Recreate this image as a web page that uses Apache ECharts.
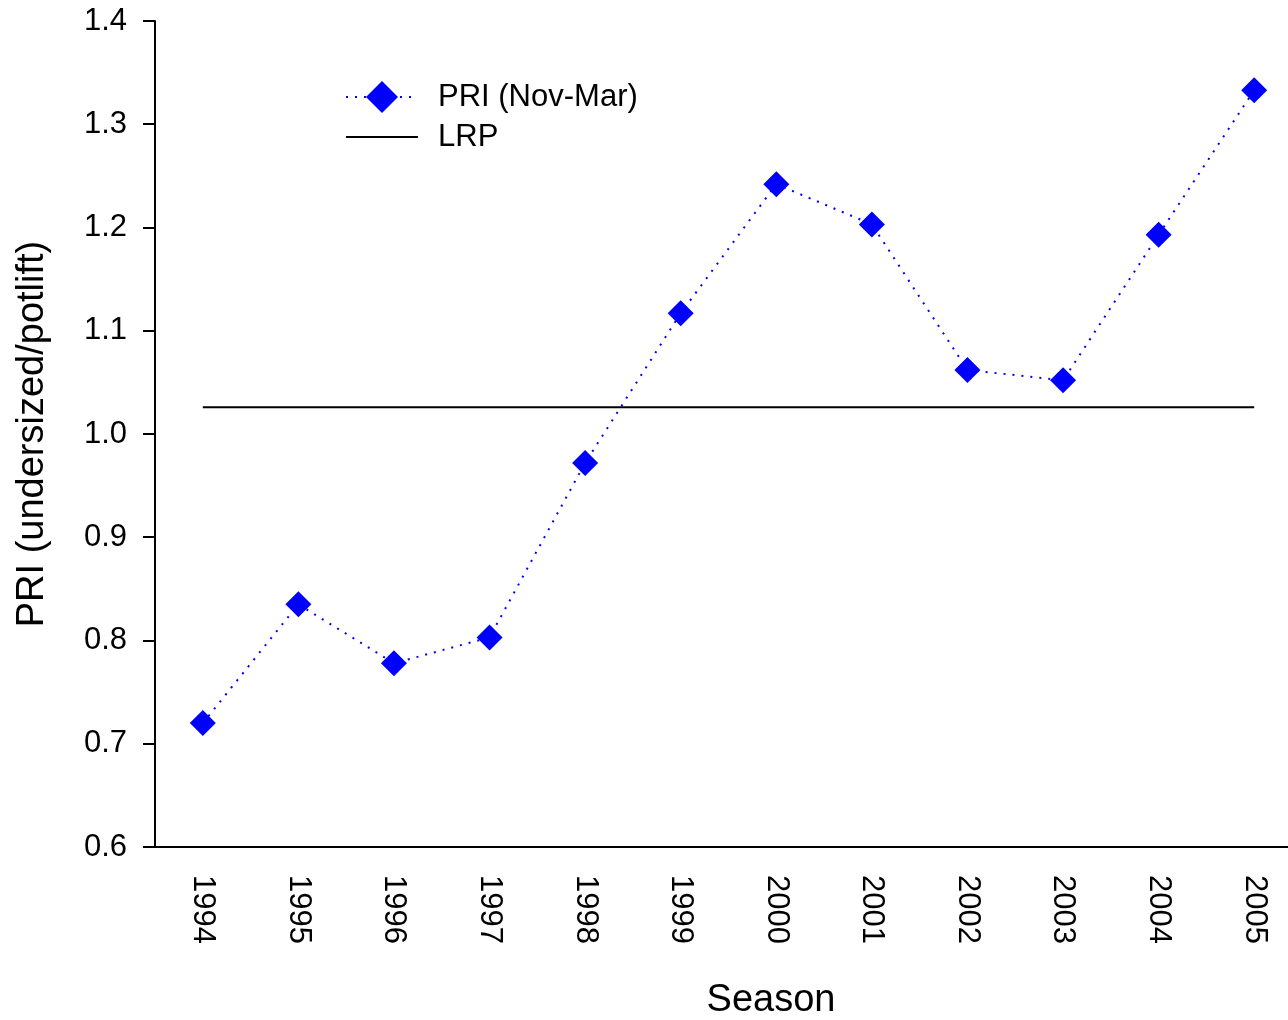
<!DOCTYPE html>
<html>
<head>
<meta charset="utf-8"/>
<title>PRI</title>
<script src="https://cdn.jsdelivr.net/npm/echarts@6/dist/echarts.min.js"></script>
<style>
	body{margin:0;background:#fff;}
	#chart{width:1288px;height:1020px;}
</style>
</head>
<body>
<div id="chart"></div>
<script>
	var seasons = ['1994','1995','1996','1997','1998','1999','2000','2001','2002','2003','2004','2005'];
	var priValues = [0.720, 0.835, 0.778, 0.803, 0.972, 1.117, 1.242, 1.203, 1.062, 1.052, 1.193, 1.333];
	var lrpLevel = 1.026;
	var lrpValues = seasons.map(function(){ return lrpLevel; });

	var font = 'Liberation Sans, Arial, sans-serif';
	var chart = echarts.init(document.getElementById('chart'));
	chart.setOption({
		backgroundColor: '#fff',
		animation: false,
		textStyle: {fontFamily: font},
		grid: {left: 155, top: 21, width: 1147, height: 826, outerBoundsMode: 'none', containLabel: false},
		legend: {
			left: 340, top: 76,
			orient: 'vertical',
			itemWidth: 72, itemHeight: 40, itemGap: 8,
			textStyle: {fontSize: 31, color: '#000', fontFamily: font, padding: [0, 0, 0, 15]},
			data: [
				{name: 'PRI (Nov-Mar)'},
				{name: 'LRP', itemStyle: {opacity: 0}}
			]
		},
		xAxis: {
			type: 'category',
			data: seasons,
			boundaryGap: true,
			name: 'Season',
			nameLocation: 'middle',
			nameGap: 135,
			nameTextStyle: {fontSize: 38, color: '#000', padding: [0, 0, 0, 85]},
			axisLine: {lineStyle: {color: '#000', width: 2}},
			axisTick: {alignWithLabel: true, length: 10, lineStyle: {color: '#000', width: 2}},
			axisLabel: {rotate: -90, margin: 28, fontSize: 31, color: '#000'},
			splitLine: {show: false}
		},
		yAxis: {
			type: 'value',
			min: 0.6, max: 1.4, interval: 0.1,
			name: 'PRI (undersized/potlift)',
			nameLocation: 'middle',
			nameGap: 103,
			nameTextStyle: {fontSize: 38, color: '#000'},
			axisLine: {show: true, lineStyle: {color: '#000', width: 2}},
			axisTick: {show: true, length: 12, lineStyle: {color: '#000', width: 2}},
			axisLabel: {fontSize: 31, color: '#000', margin: 28, formatter: function(v){ return v.toFixed(1); }},
			splitLine: {show: false}
		},
		series: [
			{
				name: 'PRI (Nov-Mar)',
				type: 'line',
				data: priValues,
				symbol: 'diamond',
				symbolSize: 26,
				itemStyle: {color: '#0000ff'},
				lineStyle: {color: '#0000ff', width: 2, type: [2, 7]},
				z: 3
			},
			{
				name: 'LRP',
				type: 'line',
				data: lrpValues,
				symbol: 'none',
				itemStyle: {color: '#000'},
				lineStyle: {color: '#000', width: 2},
				z: 2
			}
		]
	});
</script>
</body>
</html>
